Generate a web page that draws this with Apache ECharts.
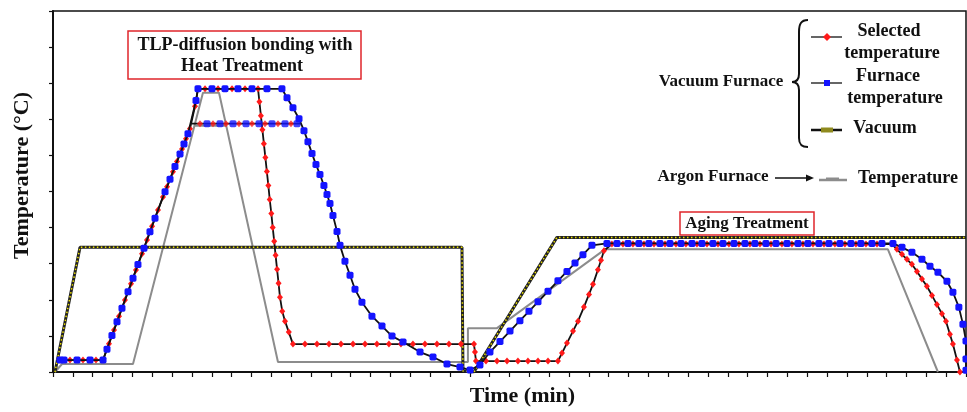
<!DOCTYPE html>
<html><head><meta charset="utf-8">
<script src="https://cdn.jsdelivr.net/npm/echarts@6/dist/echarts.min.js"></script>
<style>html,body{margin:0;padding:0;background:#fff}#c{width:967px;height:412px}</style>
</head><body><div id="c"></div>
<script>
// Time (min) on x, Temperature (°C) on y
const selectedTempA = [
 [7.1,33.1],[17.1,33.1],[30.2,33.1],[43.3,33.1],[50.4,33.1],
 [56.4,78.5],[61.5,116.3],[66.5,154.1],[72.5,199.4],[78.6,244.7],[83.6,282.6],[89.7,327.9],[94.7,365.7],[99.8,403.6],[105.8,448.9],
 [110.8,485.1],[114.9,513.0],[120.9,555.0],[124.9,582.9],[130.0,618.0],[134.0,645.8],[138.0,673.7],
 [143.1,736.2],[146.1,784.5],
 [153.2,784.5],[166.3,784.5],[180.4,784.5],[193.5,784.5],[206.6,784.5],
 [208.0,748.6],[209.5,709.9],[211.0,671.3],[212.5,632.6],[214.0,593.9],[215.5,555.2],[217.0,516.6],[218.4,477.9],[220.0,439.2],[221.4,400.5],[222.9,361.9],[224.3,323.2],[225.8,284.5],[227.3,245.9],[228.7,207.2],[231.0,168.5],[233.8,140.9],[237.6,110.5],[241.8,77.3],
 [253.9,77.3],[266.0,77.3],[278.1,77.3],[290.2,77.3],[302.3,77.3],[314.4,77.3],[326.4,77.3],[338.5,77.3],[350.6,77.3],[362.7,77.3],[374.8,77.3],[386.9,77.3],[399.0,77.3],[411.1,77.3],[424.2,77.3],
 [425.2,55.2],[426.2,30.4],
 [436.3,30.4],[447.4,30.4],[457.5,30.4],[468.5,30.4],[478.6,30.4],[488.7,30.4],[498.8,30.4],[508.8,30.4],
 [512.9,52.5],[517.9,80.1],[524.0,113.3],[529.0,140.9],[535.0,179.8],[540.1,214.9],[544.1,242.8],[549.1,283.1],[552.2,309.4],[555.2,335.9],
 [563.2,354.5],[574.3,354.5],[584.4,354.5],[595.5,354.5],[605.6,354.5],[616.7,354.5],[627.7,354.5],[637.8,354.5],[648.9,354.5],[659.0,354.5],[670.1,354.5],[681.1,354.5],[691.2,354.5],[702.3,354.5],[712.4,354.5],[723.5,354.5],[734.5,354.5],[744.6,354.5],[755.7,354.5],[765.8,354.5],[776.9,354.5],[787.9,354.5],[798.0,354.5],[809.1,354.5],[819.2,354.5],[830.3,354.5],
 [845.4,354.5],[850.4,339.8],[855.5,326.0],[860.5,312.2],[865.5,298.3],[870.6,278.2],[875.6,257.7],[880.6,237.6],[885.7,212.2],[890.7,186.7],[895.8,161.3],[899.8,140.9],[903.8,104.4],[906.8,77.3],[910.9,33.1],[913.9,0]
];
const furnaceTempA = [
 [7.1,33.1],[11.1,33.1],[24.2,33.1],[37.3,33.1],[50.4,33.1],
 [54.4,63.3],[59.4,101.1],[64.5,138.9],[69.5,176.8],[75.6,222.1],[80.6,259.9],[85.6,297.8],[91.7,343.1],[97.7,388.4],[102.8,426.2],
 [112.9,499.2],[117.9,534.0],[122.9,569.1],[128.0,603.9],[132.0,631.8],[136.0,659.7],
 [144.1,752.2],[146.1,784.5],
 [160.2,784.5],[173.3,784.5],[186.4,784.5],[200.5,784.5],[215.6,784.5],[230.7,784.5],
 [235.8,759.7],[241.8,732.0],[247.9,701.6],[252.9,668.5],[256.9,638.1],[261.0,605.0],[265.0,574.6],[269.0,547.0],[273.0,516.6],[276.1,491.7],[279.1,466.8],[282.1,433.7],[286.2,389.5],[289.2,350.8],[294.2,306.6],[299.3,268.0],[304.3,229.3],[311.3,193.4],[321.4,154.7],[331.5,127.1],[341.6,99.4],[352.7,82.9],[369.8,55.2],[382.9,41.4],[397.0,22.1],[410.1,13.8],[420.2,5.5],
 [430.2,19.3],[440.3,55.2],[450.4,84.3],[460.5,113.3],[470.5,142.3],[479.6,168.2],[488.7,194.5],[498.8,223.5],[508.8,252.5],[517.9,278.4],[526.0,301.7],[534.0,324.9],[543.1,350.8],
 [558.2,356.3],[568.3,356.3],[579.4,356.3],[590.4,356.3],[600.5,356.3],[611.6,356.3],[621.7,356.3],[632.8,356.3],[643.9,356.3],[653.9,356.3],[665.0,356.3],[675.1,356.3],[686.2,356.3],[697.3,356.3],[707.3,356.3],[718.4,356.3],[728.5,356.3],[739.6,356.3],[750.7,356.3],[760.7,356.3],[771.8,356.3],[781.9,356.3],[793.0,356.3],[804.1,356.3],[814.1,356.3],[825.2,356.3],[835.3,356.3],[846.4,356.3],
 [855.5,345.3],[865.5,331.5],[875.6,312.2],[883.7,292.8],[891.7,276.2],[900.8,251.4],[906.8,221.0],[912.8,179.6],[916.9,132.6],[920,85.6],[920,35.9],[920,5]
];
const lowerPlateauPath = [[140.1,687.8],[249.9,687.8]];
const selectedTempB = [[148.1,687.8],[161.2,687.8],[174.3,687.8],[187.4,687.8],[200.5,687.8],[213.6,687.8],[226.7,687.8],[239.8,687.8]];
const furnaceTempB = [[155.2,687.8],[168.3,687.8],[181.4,687.8],[194.5,687.8],[207.6,687.8],[220.7,687.8],[233.8,687.8],[245.9,687.8]];
const vacuum = [[2.0,0],[27.2,345.3],[412.1,345.3],[413.1,2.8],[424.2,0],[507.8,372.9],[920,372.9]];
const argonTemp = [[2.0,0],[9.1,22.1],[80.6,22.1],[151.1,773.5],[167.3,773.5],[226.7,27.6],[418.1,27.6],[418.1,121.5],[447.4,121.5],[556.2,339.8],[841.3,339.8],[891.7,0]];
const argonLower = [[142.5,682.3],[174.6,682.3]];

const FONT = "'Liberation Serif','Times New Roman',serif";
const RED = '#ff1a1a', BLUE = '#1414ff', GRAY = '#8c8c8c', BOXRED = '#e0262b';

function txt(t, x, y, size, align) {
  return {type:'text', x:x, y:y, z:100, style:{text:t, fill:'#111', fontFamily:FONT, fontWeight:'bold', fontSize:size,
    textAlign:align||'center', textVerticalAlign:'middle', align:align||'center', verticalAlign:'middle'}};
}
function ln(x1,y1,x2,y2,color,w){return {type:'line', z:100, shape:{x1:x1,y1:y1,x2:x2,y2:y2}, style:{stroke:color, lineWidth:w}};}
function bz(x1,y1,c1x,c1y,c2x,c2y,x2,y2){return {type:'bezierCurve', z:100, shape:{x1:x1,y1:y1,cpx1:c1x,cpy1:c1y,cpx2:c2x,cpy2:c2y,x2:x2,y2:y2}, style:{stroke:'#111', lineWidth:2, fill:null}};}

const chart = echarts.init(document.getElementById('c'));
chart.setOption({
  animation:false,
  backgroundColor:'#fff',
  grid:{left:53, top:11, width:913, height:362, show:true, borderColor:'#111', borderWidth:1.5, backgroundColor:'transparent'},
  xAxis:{type:'value', min:0, max:920, interval:20,
    axisLine:{show:true, onZero:false, lineStyle:{color:'#111', width:2}},
    axisTick:{show:true, length:5, lineStyle:{color:'#111', width:1.2}},
    axisLabel:{show:false}, splitLine:{show:false},
    name:'Time (min)', nameLocation:'middle', nameGap:13,
    nameTextStyle:{fontFamily:FONT, fontWeight:'bold', fontSize:22, color:'#111', padding:[0,0,0,26]}},
  yAxis:{type:'value', min:0, max:1000, interval:100,
    axisLine:{show:true, onZero:false, lineStyle:{color:'#111', width:2}},
    axisTick:{show:true, length:4, lineStyle:{color:'#111', width:1.2}},
    axisLabel:{show:false}, splitLine:{show:false},
    name:'Temperature (°C)', nameLocation:'middle', nameGap:20,
    nameTextStyle:{fontFamily:FONT, fontWeight:'bold', fontSize:22, color:'#111', padding:[0,0,0,32]}},
  series:[
    {name:'Argon temperature', type:'line', data:argonTemp, symbol:'none', z:2, lineStyle:{color:GRAY, width:2}},
    {name:'Argon temperature (2)', type:'line', data:argonLower, symbol:'none', z:2, lineStyle:{color:GRAY, width:2}},
    {name:'Vacuum', type:'line', data:vacuum, symbol:'none', z:3, lineStyle:{color:'#222', width:3}},
    {name:'Vacuum dots', type:'line', data:vacuum, symbol:'none', z:4, lineStyle:{color:'#ece000', width:1.5, type:[1.5,2.5]}},
    {name:'Lower plateau', type:'line', data:lowerPlateauPath, symbol:'none', z:5, lineStyle:{color:'#111', width:1.8}},
    {name:'Selected temperature', type:'line', data:selectedTempA, z:6, symbol:'diamond', symbolSize:[6,7],
      lineStyle:{color:'#111', width:1.8}, itemStyle:{color:RED, borderWidth:0}},
    {name:'Furnace temperature', type:'line', data:furnaceTempA, z:7, symbol:'roundRect', symbolSize:7,
      lineStyle:{color:'#111', width:1.8}, itemStyle:{color:BLUE, borderWidth:0}},
    {name:'Selected temperature (2)', type:'scatter', data:selectedTempB, z:8, symbol:'diamond', symbolSize:[6,7], itemStyle:{color:RED}},
    {name:'Furnace temperature (2)', type:'scatter', data:furnaceTempB, z:8, symbol:'roundRect', symbolSize:7, itemStyle:{color:BLUE}}
  ],
  graphic:[
    {type:'rect', z:99, shape:{x:128, y:31, width:233, height:48}, style:{fill:'#fff', stroke:BOXRED, lineWidth:1.5}},
    txt('TLP-diffusion bonding with', 245, 45, 18),
    txt('Heat Treatment', 242, 66, 18),
    {type:'rect', z:99, shape:{x:680, y:212, width:134, height:23}, style:{fill:'#fff', stroke:BOXRED, lineWidth:1.5}},
    txt('Aging Treatment', 747, 224, 17),
    txt('Vacuum Furnace', 721, 82, 17),
    bz(808,20, 801,20, 799,24, 799,32), ln(799,32,799,74,'#111',2), bz(799,74, 799,80, 796,82, 792,82),
    bz(792,82, 796,82, 799,84, 799,90), ln(799,90,799,138,'#111',2), bz(799,138, 799,144, 801,147, 808,147),
    ln(811,37,842,37,'#333',1.5),
    {type:'polygon', z:101, shape:{points:[[827,33],[831,37],[827,41],[823,37]]}, style:{fill:RED}},
    txt('Selected', 889, 31, 18), txt('temperature', 892, 53, 18),
    ln(811,83,842,83,'#333',1.5),
    {type:'rect', z:101, shape:{x:824, y:80, width:6, height:6}, style:{fill:BLUE}},
    txt('Furnace', 888, 76, 18), txt('temperature', 895, 98, 18),
    ln(811,130,842,130,'#111',2.5),
    {type:'rect', z:101, shape:{x:821, y:127.5, width:12, height:5}, style:{fill:'#8f8a1e'}},
    txt('Vacuum', 885, 128, 18),
    txt('Argon Furnace', 713, 177, 17),
    ln(775,178,807,178,'#111',1.5),
    {type:'polygon', z:101, shape:{points:[[806,174.5],[814,178],[806,181.5]]}, style:{fill:'#111'}},
    ln(819,180,847,180,GRAY,2.5),
    {type:'rect', z:101, shape:{x:826, y:177.5, width:13, height:3}, style:{fill:GRAY}},
    txt('Temperature', 908, 178, 18)
  ]
});
</script></body></html>
